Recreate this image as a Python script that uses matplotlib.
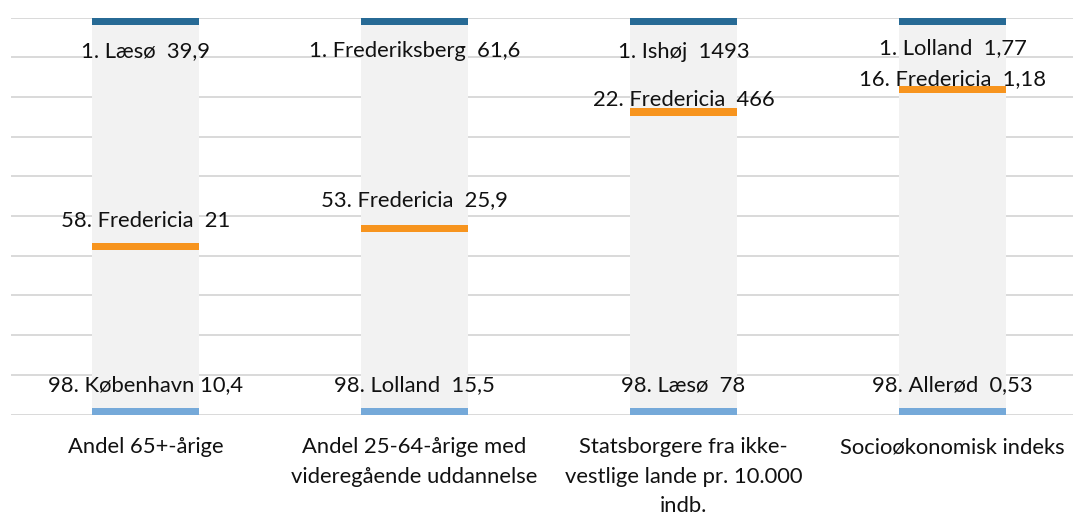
import matplotlib.pyplot as plt

# Kategorier (x-aksen)
categories = [
    "Andel 65+-årige",
    "Andel 25-64-årige med\nvideregående uddannelse",
    "Statsborgere fra ikke-\nvestlige lande pr. 10.000\nindb.",
    "Socioøkonomisk indeks",
]

# Nr. 1 i hver kategori
top_names = ["Læsø", "Frederiksberg", "Ishøj", "Lolland"]
top_values = [39.9, 61.6, 1493, 1.77]

# Fredericia
fred_ranks = [58, 53, 22, 16]
fred_values = [21, 25.9, 466, 1.18]
fred_pos = [41.4, 46.0, 75.3, 80.9]  # placering på skalaen (0-100), aflæst

# Nr. 98 i hver kategori
bottom_names = ["København", "Lolland", "Læsø", "Allerød"]
bottom_values = [10.4, 15.5, 78, 0.53]
bottom_sep = [" ", "  ", "  ", "  "]

DARK_BLUE = "#276A95"
ORANGE = "#F7941E"
LIGHT_BLUE = "#75A9D9"
GRAY = "#F2F2F2"
GRID = "#D9D9D9"


def fmt(v):
    return str(v).replace(".", ",")


plt.rcParams["font.family"] = ["Lato", "DejaVu Sans"]

fig = plt.figure(figsize=(10.73, 5.14), dpi=100)
ax = fig.add_axes([11 / 1073, 99.5 / 514, 1062 / 1073, 397 / 514])

x = list(range(len(categories)))
w = 0.398
mark_h = 1.8

ax.bar(x, [100] * len(x), width=w, color=GRAY, zorder=2)
ax.bar(x, [2.0] * len(x), bottom=98.0, width=w, color=DARK_BLUE, zorder=3)
ax.bar(x, [mark_h] * len(x), bottom=fred_pos, width=w, color=ORANGE, zorder=3)
ax.bar(x, [1.6] * len(x), bottom=0, width=w, color=LIGHT_BLUE, zorder=3)

# label-placeringer (y i akse-enheder)
top_label_y = [91.6, 91.6, 91.4, 92.4]
fred_label_y = [48.8, 54.0, 79.2, 84.6]
bottom_label_y = [7.3, 7.3, 7.4, 7.4]

fs = 15.8
txt = "#111111"
for i in x:
    ax.text(i, top_label_y[i], f"1. {top_names[i]}  {fmt(top_values[i])}",
            ha="center", va="center", fontsize=fs, color=txt, zorder=4)
    ax.text(i, fred_label_y[i], f"{fred_ranks[i]}. Fredericia  {fmt(fred_values[i])}",
            ha="center", va="center", fontsize=fs, color=txt, zorder=4)
    ax.text(i, bottom_label_y[i],
            f"98. {bottom_names[i]}{bottom_sep[i]}{fmt(bottom_values[i])}",
            ha="center", va="center", fontsize=fs, color=txt, zorder=4)

ax.set_xlim(-0.5, -0.5 + 1062 / 269)
ax.set_ylim(0, 100)
ax.set_yticks(range(0, 101, 10))
ax.yaxis.grid(True, color=GRID, linewidth=1.4, zorder=0)
ax.set_axisbelow(True)
ax.tick_params(axis="y", left=False, labelleft=False)
ax.tick_params(axis="x", bottom=False, pad=13)
ax.set_xticks(x)
ax.set_xticklabels(categories, fontsize=fs, color=txt, linespacing=1.58)
for s in ax.spines.values():
    s.set_visible(False)

fig.savefig("out.png", dpi=100)
